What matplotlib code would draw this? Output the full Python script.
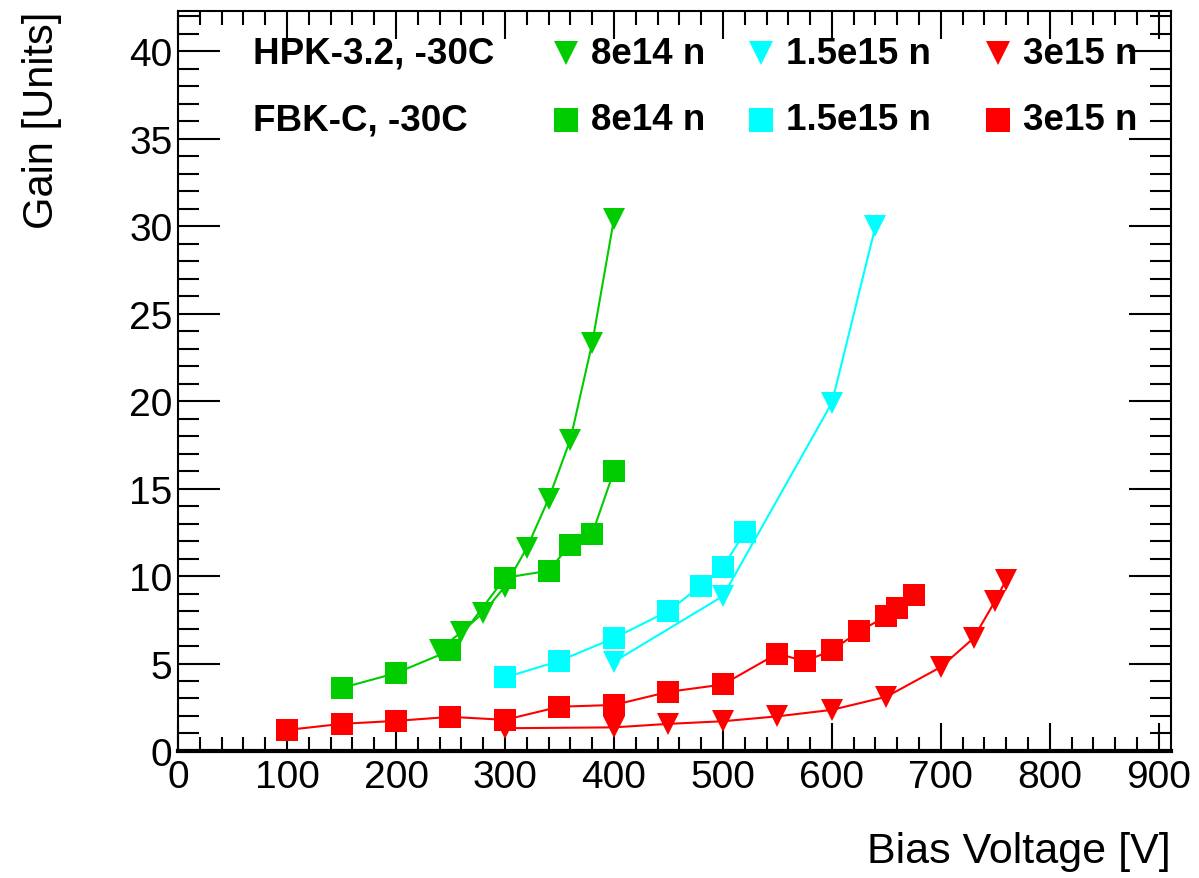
import numpy as np
import matplotlib
matplotlib.use("Agg")
import matplotlib.pyplot as plt
from matplotlib.ticker import MultipleLocator

plt.rcParams['font.family'] = ['Liberation Sans', 'DejaVu Sans']

# HPK-3.2 at -30C (triangles)
hpk_8e14_v = [240, 260, 280, 300, 320, 340, 360, 380, 400]
hpk_8e14_g = [5.8, 6.8, 7.9, 9.4, 11.6, 14.4, 17.8, 23.3, 30.4]
hpk_15e15_v = [400, 500, 600, 640]
hpk_15e15_g = [5.1, 8.85, 19.9, 30.0]
hpk_3e15_v = [300, 400, 450, 500, 550, 600, 650, 700, 730, 750, 760]
hpk_3e15_g = [1.3, 1.35, 1.55, 1.7, 1.98, 2.35, 3.1, 4.8, 6.45, 8.6, 9.8]

# FBK-C at -30C (squares)
fbk_8e14_v = [150, 200, 250, 300, 340, 360, 380, 400]
fbk_8e14_g = [3.6, 4.45, 5.75, 9.9, 10.3, 11.8, 12.4, 16.0]
fbk_15e15_v = [300, 350, 400, 450, 480, 500, 520]
fbk_15e15_g = [4.2, 5.15, 6.45, 8.0, 9.45, 10.5, 12.5]
fbk_3e15_v = [100, 150, 200, 250, 300, 350, 400, 450, 500, 550, 575, 600, 625, 650, 660, 675]
fbk_3e15_g = [1.2, 1.55, 1.72, 1.95, 1.78, 2.53, 2.63, 3.38, 3.8, 5.57, 5.13, 5.75, 6.84, 7.7, 8.2, 8.9]

green = '#00cc00'
cyan = '#00ffff'
red = '#ff0000'

fig = plt.figure(figsize=(11.99, 8.79), dpi=100)
ax = fig.add_axes([0.1485, 0.1445, 0.828, 0.842])

series = [
    (hpk_8e14_v, hpk_8e14_g, green, 'v'),
    (hpk_15e15_v, hpk_15e15_g, cyan, 'v'),
    (hpk_3e15_v, hpk_3e15_g, red, 'v'),
    (fbk_8e14_v, fbk_8e14_g, green, 's'),
    (fbk_15e15_v, fbk_15e15_g, cyan, 's'),
    (fbk_3e15_v, fbk_3e15_g, red, 's'),
]
for v, g, c, m in series:
    ms = 16 if m == 'v' else 16.5
    ax.plot(v, g, color=c, lw=1.5, marker=m, ms=ms, mew=0, mfc=c)

ax.set_xlim(0, 911)
ax.set_ylim(0, 42.3)
ax.xaxis.set_major_locator(MultipleLocator(100))
ax.xaxis.set_minor_locator(MultipleLocator(20))
ax.yaxis.set_major_locator(MultipleLocator(5))
ax.yaxis.set_minor_locator(MultipleLocator(1))
ax.tick_params(which='both', direction='in', top=True, right=True, width=1.5)
ax.tick_params(axis='x', which='major', length=20, labelsize=28, pad=6)
ax.tick_params(axis='x', which='minor', length=10)
ax.tick_params(axis='y', which='major', length=30, labelsize=28, pad=4)
ax.tick_params(axis='y', which='minor', length=15)
for s in ax.spines.values():
    s.set_linewidth(1.5)
ax.spines['bottom'].set_linewidth(3)

ax.set_xlabel('Bias Voltage [V]', fontsize=31, loc='right', labelpad=26)
ax.set_ylabel('Gain [Units]', fontsize=30, loc='top', labelpad=48)

# legend block drawn by hand, two rows
rows = [('HPK-3.2, -30C', 'v', 0.943), ('FBK-C, -30C', 's', 0.853)]
entries = [(green, '8e14 n', 0.391), (cyan, '1.5e15 n', 0.587), (red, '3e15 n', 0.826)]
for label, m, y in rows:
    ax.text(0.075, y, label, transform=ax.transAxes, fontsize=26.5,
            fontweight='bold', va='center', ha='left')
    for c, txt, x in entries:
        ax.plot([x], [y], transform=ax.transAxes, marker=m, ms=17,
                mew=0, color=c, clip_on=False)
        ax.text(x + 0.025, y, txt, transform=ax.transAxes, fontsize=26.5,
                fontweight='bold', va='center', ha='left')

fig.savefig('out.png', dpi=100)
